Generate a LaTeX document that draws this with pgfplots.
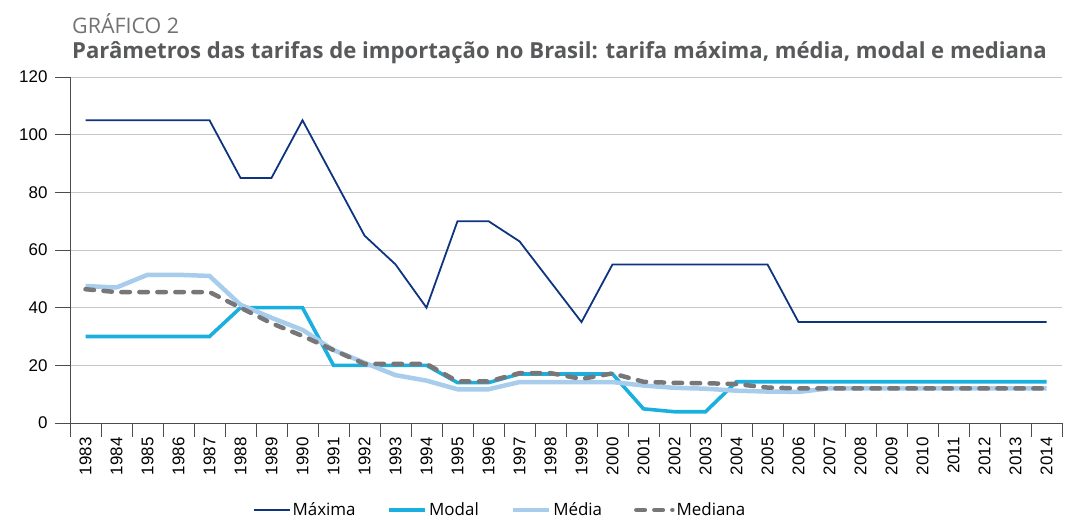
\documentclass[border=0pt]{standalone}
\usepackage{fontspec}
\setmainfont{Liberation Sans}
\newfontfamily\osans{Open Sans}
\usepackage{pgfplots}
\pgfplotsset{compat=1.18}
\definecolor{maxc}{HTML}{0F347F}
\definecolor{modc}{HTML}{1AAFDE}
\definecolor{medc}{HTML}{A7CCEC}
\definecolor{mdnc}{HTML}{77777A}
\definecolor{titc}{HTML}{58595B}
\begin{document}
\begin{tikzpicture}
\path[use as bounding box] (-70bp,-96bp) rectangle (995bp,423bp);
\node[anchor=base west, inner sep=0pt, text=titc!85] at (2bp,389bp) {\osans\fontsize{21.5}{21.5}\selectfont GRÁFICO 2};
\node[anchor=base west, inner sep=0pt, text=titc] at (2bp,364bp) {\osans\bfseries\fontsize{22.2}{22.2}\selectfont Parâmetros das tarifas de importação no Brasil: tarifa máxima, média, modal e mediana};
\begin{axis}[
  at={(0,0)}, anchor=south west,
  scale only axis, width=992bp, height=346bp,
  xmin=-0.5, xmax=31.5, ymin=0, ymax=120,
  axis x line*=bottom, axis y line*=left,
  axis line style={draw=black!70, line width=0.8pt},
  xtick={0,...,31},
  xticklabels={1983,1984,1985,1986,1987,1988,1989,1990,1991,1992,1993,1994,1995,1996,1997,1998,1999,2000,2001,2002,2003,2004,2005,2006,2007,2008,2009,2010,2011,2012,2013,2014},
  major x tick style={draw=none},
  minor xtick={-0.5,0.5,...,31.5},
  minor x tick style={draw=black!70, line width=0.8pt},
  minor tick length=14bp,
  ytick={0,20,...,120},
  major y tick style={draw=black!70, line width=0.8pt},
  tick align=outside,
  major tick length=15bp,
  ymajorgrids, grid style={draw=black!22, line width=0.6pt},
  /pgf/number format/assume math mode=true,
  tick label style={font=\fontsize{17}{17}\selectfont},
  xticklabel style={rotate=90, anchor=east},
  xticklabel shift=-4bp,
  yticklabel shift=4bp,
  legend columns=4,
  legend style={at={(0.4335,-0.2514)}, anchor=center, draw=none, fill=none,
    font=\osans\fontsize{17}{17}\selectfont, /tikz/every even column/.append style={column sep=30bp}},
  legend image code/.code={\draw[#1] (0bp,0bp) -- (36bp,0bp);},
]
\addplot[maxc, line width=1.8pt] coordinates {
(0,105)(1,105)(2,105)(3,105)(4,105)(5,85)(6,85)(7,105)(8,85)(9,65)(10,55)(11,40)(12,70)(13,70)(14,63)(15,49)(16,35)(17,55)(18,55)(19,55)(20,55)(21,55)(22,55)(23,35)(24,35)(25,35)(26,35)(27,35)(28,35)(29,35)(30,35)(31,35)};
\addlegendentry{Máxima}
\addplot[modc, line width=3.6pt] coordinates {
(0,30)(1,30)(2,30)(3,30)(4,30)(5,40)(6,40)(7,40)(8,20)(9,20)(10,20)(11,20)(12,14)(13,14)(14,17)(15,17)(16,17)(17,17)(18,4.9)(19,3.9)(20,3.9)(21,14.3)(22,14.3)(23,14.3)(24,14.3)(25,14.3)(26,14.3)(27,14.3)(28,14.3)(29,14.3)(30,14.3)(31,14.3)};
\addlegendentry{Modal}
\addplot[medc, line width=4.5pt] coordinates {
(0,47.5)(1,47)(2,51.4)(3,51.4)(4,51)(5,41)(6,36.5)(7,32.3)(8,25.3)(9,20.9)(10,16.6)(11,14.7)(12,11.7)(13,11.7)(14,14.2)(15,14.2)(16,14.2)(17,14.2)(18,13.0)(19,12.2)(20,11.9)(21,11.2)(22,10.9)(23,10.8)(24,12)(25,12)(26,12)(27,12)(28,12)(29,12)(30,12)(31,12)};
\addlegendentry{Média}
\addplot[mdnc, line width=4.5pt, line cap=round, dash pattern=on 8.5bp off 9.5bp] coordinates {
(0,46.4)(1,45.4)(2,45.4)(3,45.4)(4,45.4)(5,40)(6,34.6)(7,30.2)(8,25.3)(9,20.5)(10,20.5)(11,20.5)(12,14.4)(13,14.4)(14,17.3)(15,17.3)(16,15.3)(17,17.2)(18,14.3)(19,13.9)(20,13.8)(21,13.5)(22,12.3)(23,12)(24,12)(25,12)(26,12)(27,12)(28,12)(29,12)(30,12)(31,12)};
\addlegendentry{Mediana}
\end{axis}
\end{tikzpicture}
\end{document}
